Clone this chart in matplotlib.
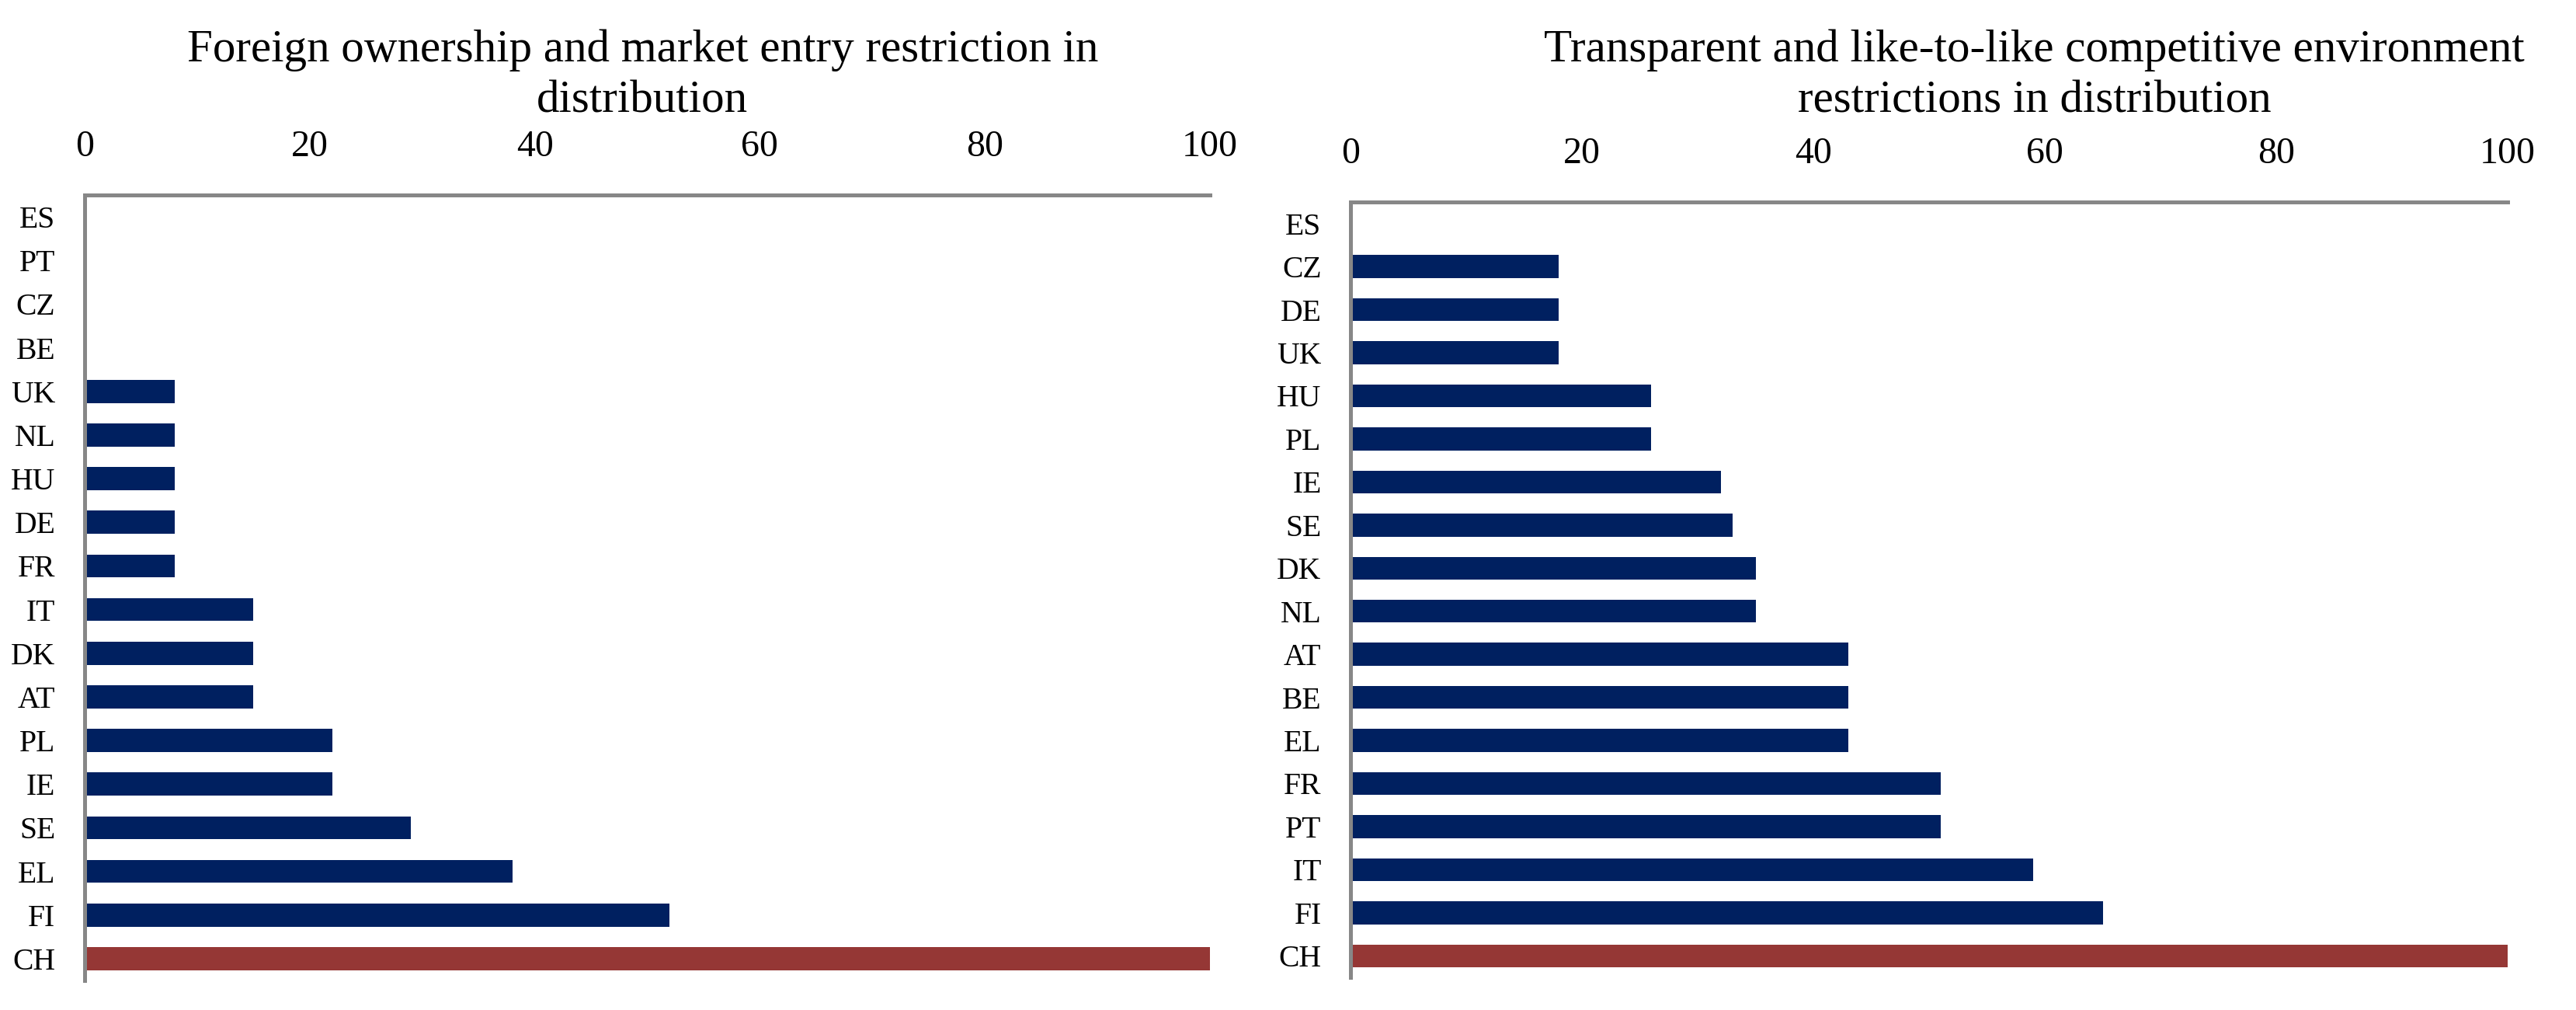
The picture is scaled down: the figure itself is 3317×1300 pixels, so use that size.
import matplotlib
matplotlib.use("Agg")
from matplotlib import pyplot as plt

plt.rcParams['font.family'] = ['Liberation Serif', 'DejaVu Serif']

# left chart: foreign ownership / market entry
paises_esq = ["ES", "PT", "CZ", "BE", "UK", "NL", "HU", "DE", "FR",
              "IT", "DK", "AT", "PL", "IE", "SE", "EL", "FI", "CH"]
valores_esq = [0, 0, 0, 0, 8, 8, 8, 8, 8, 15, 15, 15, 22, 22, 29, 38, 52, 100]
titulo_esq = "Foreign ownership and market entry restriction in\ndistribution"

# right chart: competitive environment
paises_dir = ["ES", "CZ", "DE", "UK", "HU", "PL", "IE", "SE", "DK",
              "NL", "AT", "BE", "EL", "FR", "PT", "IT", "FI", "CH"]
valores_dir = [0, 18, 18, 18, 26, 26, 32, 33, 35, 35, 43, 43, 43, 51, 51, 59, 65, 100]
titulo_dir = "Transparent and like-to-like competitive environment\nrestrictions in distribution"

xticks = [0, 20, 40, 60, 80, 100]

azul = "#002060"
vermelho = "#953735"
cinza = "#878787"

fig = plt.figure(figsize=(33.17, 13), dpi=100)
ax1 = fig.add_axes([0.03286, 0.02923, 0.43684, 0.77769])
ax2 = fig.add_axes([0.52427, 0.03231, 0.44920, 0.76769])


def desenha(ax, paises, valores):
    cores = [vermelho if p == "CH" else azul for p in paises]
    ax.barh(paises, valores, height=0.53, color=cores)
    ax.set_xlim(0, 100)
    ax.set_ylim(len(paises) - 0.5, -0.5)
    ax.set_xticks(xticks)
    ax.xaxis.tick_top()
    ax.tick_params(axis='x', length=0, pad=29, labelsize=34.5)
    ax.tick_params(axis='y', length=0, pad=27, labelsize=28.5)
    for lado in ["right", "bottom"]:
        ax.spines[lado].set_visible(False)
    for lado in ["top", "left"]:
        ax.spines[lado].set_color(cinza)
        ax.spines[lado].set_linewidth(3.6)


desenha(ax1, paises_esq, valores_esq)
desenha(ax2, paises_dir, valores_dir)

fig.text(0.2494, 0.971, titulo_esq, ha="center", va="top", fontsize=42.5, linespacing=1.27)
fig.text(0.7898, 0.971, titulo_dir, ha="center", va="top", fontsize=42.5, linespacing=1.27)

plt.savefig("out.png", dpi=100)
